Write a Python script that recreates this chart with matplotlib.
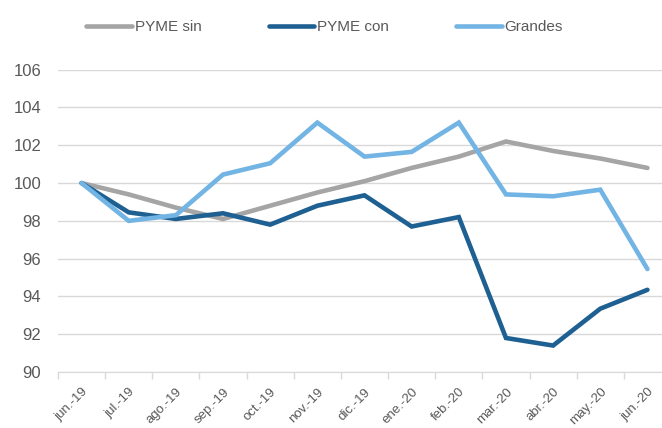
import matplotlib.pyplot as plt
import numpy as np

plt.rcParams["font.family"] = ["Liberation Sans", "DejaVu Sans"]

months = ["jun.-19", "jul.-19", "ago.-19", "sep.-19", "oct.-19", "nov.-19", "dic.-19",
          "ene.-20", "feb.-20", "mar.-20", "abr.-20", "may.-20", "jun.-20"]
pyme_sin = [100.0, 99.4, 98.7, 98.1, 98.8, 99.5, 100.1, 100.8, 101.4, 102.2, 101.7, 101.3, 100.8]
pyme_con = [100.0, 98.45, 98.1, 98.4, 97.8, 98.8, 99.35, 97.7, 98.2, 91.8, 91.4, 93.35, 94.35]
grandes = [100.0, 98.0, 98.3, 100.45, 101.05, 103.2, 101.4, 101.65, 103.2, 99.4, 99.3, 99.65, 95.45]

GREY = "#A5A5A5"
DARK = "#1F6092"
LIGHT = "#72B4E3"
TEXT = "#595959"

fig = plt.figure(figsize=(6.62, 4.28), dpi=100)
ax = fig.add_axes([58 / 662, 56 / 428, 613 / 662, 302.3 / 428])

x = np.arange(len(months))
ax.plot(x, pyme_sin, color=GREY, lw=3.3, label="PYME sin", solid_capstyle="round", solid_joinstyle="miter")
ax.plot(x, pyme_con, color=DARK, lw=3.3, label="PYME con", solid_capstyle="round", solid_joinstyle="miter")
ax.plot(x, grandes, color=LIGHT, lw=3.3, label="Grandes", solid_capstyle="round", solid_joinstyle="miter")

ax.set_xlim(-0.5, len(months) - 0.5)
ax.set_ylim(90, 106)
ax.set_yticks(np.arange(90, 107, 2))
ax.grid(axis="y", color="#D9D9D9", lw=1)
ax.set_axisbelow(True)

ax.set_xticks(x)
ax.set_xticklabels(months, rotation=45, ha="right", rotation_mode="anchor")
ax.set_xticks(np.arange(-0.5, len(months), 1), minor=True)
ax.tick_params(axis="x", which="major", length=0, pad=10, labelsize=9.5, labelcolor=TEXT)
ax.tick_params(axis="x", which="minor", length=5, color="#D9D9D9", width=1)
ax.tick_params(axis="y", length=0, pad=12, labelsize=12, labelcolor=TEXT)

for side in ("top", "right", "left"):
    ax.spines[side].set_visible(False)
ax.spines["bottom"].set_color("#D9D9D9")

fig.legend(loc="center", bbox_to_anchor=(0.49, 0.937), ncol=3, frameon=False,
           fontsize=11, labelcolor=TEXT, handlelength=3.0, handletextpad=0.15,
           columnspacing=4.4)

fig.savefig("out.png", dpi=100)
